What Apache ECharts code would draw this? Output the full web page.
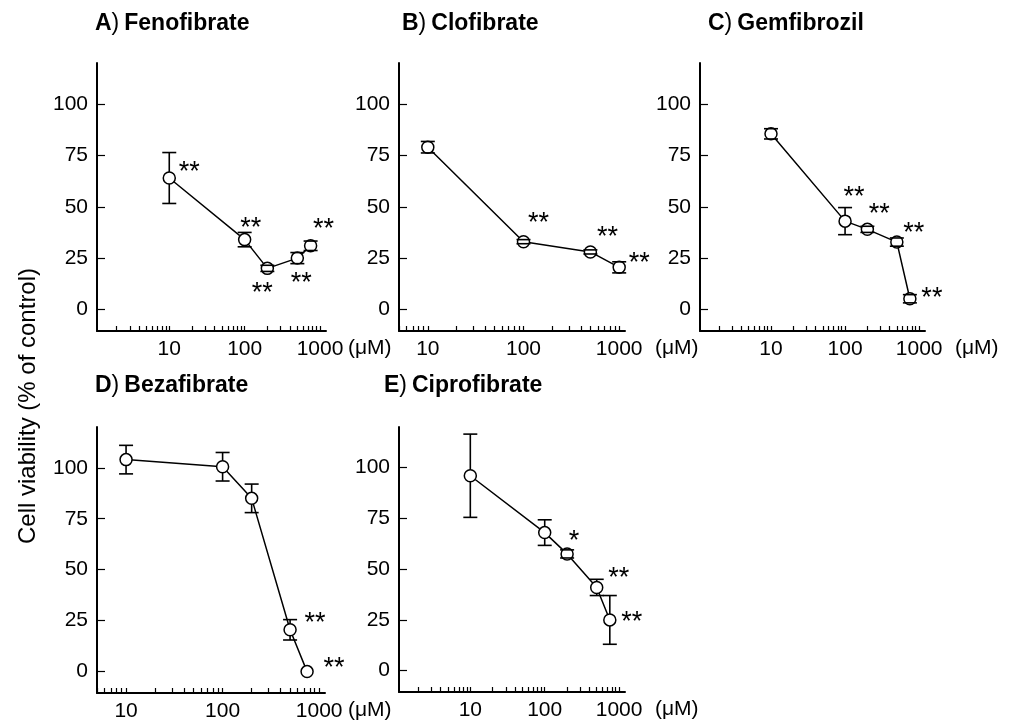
<!DOCTYPE html>
<html>
<head>
<meta charset="utf-8">
<script src="https://cdn.jsdelivr.net/npm/echarts@6/dist/echarts.min.js"></script>
<style>
html, body { margin: 0; padding: 0; background: #fff; }
#chart { width: 1016px; height: 725px; }
</style>
</head>
<body>
<div id="chart"></div>
<script>
// dose in uM, viability in % of control (mean and error bar)
const fenoDose = [10, 100, 200, 500, 750]
const fenoMean = [64, 34, 20, 25, 31]
const fenoErr = [12.4, 3.5, 1.5, 2.7, 2.3]
const fenoStars = ['**', '**', '**', '**', '**']

const clofDose = [10, 100, 500, 1000]
const clofMean = [79, 33, 28, 20.5]
const clofErr = [2.8, 1, 1, 2.7]
const clofStars = ['', '**', '**', '**']

const gemfDose = [10, 100, 200, 500, 750]
const gemfMean = [85.5, 43, 39, 32.8, 5.2]
const gemfErr = [2.5, 6.6, 1.5, 2, 2]
const gemfStars = ['', '**', '**', '**', '**']

const bezaDose = [10, 100, 200, 500, 750]
const bezaMean = [104, 100.5, 85, 20.5, 0]
const bezaErr = [7, 7, 7, 5, 0]
const bezaStars = ['', '', '', '**', '**']

const ciprDose = [10, 100, 200, 500, 750]
const ciprMean = [96, 68, 57.5, 41, 25]
const ciprErr = [20.5, 6.3, 2, 4, 12]
const ciprStars = ['', '', '*', '**', '**']

const yTicks = [0, 25, 50, 75, 100]
const xLabels = [10, 100, 1000]
const yName = 'Cell viability (% of control)'
const unit = '(μM)'

const FONT = 'Liberation Sans, Arial, sans-serif'

// log minor ticks 2..9 per decade
const minorTicks = []
;[1, 10, 100].forEach(d => {
	for (let k = 2; k <= 10; k++) minorTicks.push(k * d)
})

const panels = [
	{ tag: 'A', name: 'Fenofibrate', dose: fenoDose, mean: fenoMean, err: fenoErr, stars: fenoStars,
		grid: { left: 97, top: 63, width: 229, height: 268 }, xMin: 1.1, xMax: 1200, unitGap: 22,
		title: { left: 95, top: 12 },
		off: [[20, -5], [6, -11], [-5, 25], [4, 25], [13, -16]] },
	{ tag: 'B', name: 'Clofibrate', dose: clofDose, mean: clofMean, err: clofErr, stars: clofStars,
		grid: { left: 399, top: 63, width: 226, height: 268 }, xMin: 5, xMax: 1150, unitGap: 30,
		title: { left: 402, top: 12 },
		off: [[0, 0], [15, -18], [17, -14], [20, -4]] },
	{ tag: 'C', name: 'Gemfibrozil', dose: gemfDose, mean: gemfMean, err: gemfErr, stars: gemfStars,
		grid: { left: 700, top: 63, width: 225, height: 268 }, xMin: 1.1, xMax: 1200, unitGap: 30,
		title: { left: 708, top: 12 },
		off: [[0, 0], [9, -24], [12, -15], [17, -9], [22, 0]] },
	{ tag: 'D', name: 'Bezafibrate', dose: bezaDose, mean: bezaMean, err: bezaErr, stars: bezaStars,
		grid: { left: 97, top: 427, width: 228, height: 266 }, xMin: 5, xMax: 1150, unitGap: 23,
		title: { left: 95, top: 374 },
		off: [[0, 0], [0, 0], [0, 0], [25, -6], [27, -3]] },
	{ tag: 'E', name: 'Ciprofibrate', dose: ciprDose, mean: ciprMean, err: ciprErr, stars: ciprStars,
		grid: { left: 399, top: 427, width: 226, height: 265 }, xMin: 1.1, xMax: 1200, unitGap: 30,
		title: { left: 384, top: 374 },
		off: [[0, 0], [0, 0], [7, -12], [22, -9], [22, 3]] }
]

const grids = [], xAxes = [], yAxes = [], series = [], titles = []

panels.forEach((p, i) => {
	grids.push(Object.assign({ containLabel: false }, p.grid))
	titles.push({
		text: '{b|' + p.tag + '}{n|)} {b|' + p.name + '}',
		left: p.title.left,
		top: p.title.top,
		padding: 0,
		textStyle: {
			rich: {
				b: { fontFamily: FONT, fontSize: 23, fontWeight: 'bold', color: '#000' },
				n: { fontFamily: FONT, fontSize: 23, fontWeight: 'normal', color: '#000' }
			}
		}
	})
	xAxes.push({
		type: 'log',
		logBase: 10,
		gridIndex: i,
		min: p.xMin,
		max: p.xMax,
		name: unit,
		nameLocation: 'end',
		nameGap: p.unitGap,
		nameTextStyle: { fontFamily: FONT, fontSize: 21, color: '#000', verticalAlign: 'top', padding: [7, 0, 0, 0] },
		axisLine: { onZero: false, lineStyle: { color: '#000', width: 2 } },
		axisTick: {
			inside: true,
			length: 5,
			lineStyle: { color: '#000', width: 1.2 },
			customValues: minorTicks.filter(v => v >= p.xMin && v <= p.xMax)
		},
		axisLabel: {
			customValues: xLabels,
			formatter: v => String(Math.round(v)),
			fontFamily: FONT,
			fontSize: 21,
			color: '#000',
			margin: 8
		},
		splitLine: { show: false },
		minorTick: { show: false }
	})
	yAxes.push({
		type: 'value',
		gridIndex: i,
		min: -10.5,
		max: 120,
		axisLine: { show: true, onZero: false, lineStyle: { color: '#000', width: 2 } },
		axisTick: { inside: true, length: 8, lineStyle: { color: '#000', width: 1.2 }, customValues: yTicks },
		axisLabel: { customValues: yTicks, fontFamily: FONT, fontSize: 21, color: '#000', margin: 9 },
		splitLine: { show: false }
	})
	series.push({
		type: 'line',
		xAxisIndex: i,
		yAxisIndex: i,
		symbol: 'circle',
		symbolSize: 12,
		lineStyle: { color: '#000', width: 1.5 },
		itemStyle: { color: '#fff', borderColor: '#000', borderWidth: 1.5 },
		emphasis: { disabled: true },
		z: 2,
		data: p.dose.map((d, k) => ({
			value: [d, p.mean[k]],
			label: {
				show: !!p.stars[k],
				position: 'inside',
				formatter: p.stars[k],
				offset: p.off[k],
				fontFamily: FONT,
				fontSize: 27,
				color: '#000'
			}
		}))
	})
	series.push({
		type: 'custom',
		xAxisIndex: i,
		yAxisIndex: i,
		z: 3,
		silent: true,
		data: p.dose.map((d, k) => [d, p.mean[k], p.err[k]]),
		renderItem(params, api) {
			const x = api.value(0)
			const m = api.value(1)
			const e = api.value(2)
			if (!e) return { type: 'group', children: [] }
			const c = api.coord([x, m])
			const hi = api.coord([x, m + e])
			const lo = api.coord([x, m - e])
			const r = 6
			const w = 7
			const st = { stroke: '#000', lineWidth: 1.6 }
			const kids = [
				{ type: 'line', shape: { x1: c[0] - w, y1: hi[1], x2: c[0] + w, y2: hi[1] }, style: st },
				{ type: 'line', shape: { x1: c[0] - w, y1: lo[1], x2: c[0] + w, y2: lo[1] }, style: st }
			]
			if (hi[1] < c[1] - r) kids.push({ type: 'line', shape: { x1: c[0], y1: hi[1], x2: c[0], y2: c[1] - r }, style: st })
			if (lo[1] > c[1] + r) kids.push({ type: 'line', shape: { x1: c[0], y1: c[1] + r, x2: c[0], y2: lo[1] }, style: st })
			return { type: 'group', children: kids }
		}
	})
})

const chart = echarts.init(document.getElementById('chart'), null, { renderer: 'canvas' })
chart.setOption({
	backgroundColor: '#fff',
	animation: false,
	title: titles,
	grid: grids,
	xAxis: xAxes,
	yAxis: yAxes,
	series: series,
	graphic: [{
		type: 'text',
		x: 28,
		y: 406,
		rotation: Math.PI / 2,
		style: {
			text: yName,
			font: '24px ' + FONT,
			textAlign: 'center',
			textVerticalAlign: 'middle',
			fill: '#000'
		}
	}]
})
</script>
</body>
</html>
